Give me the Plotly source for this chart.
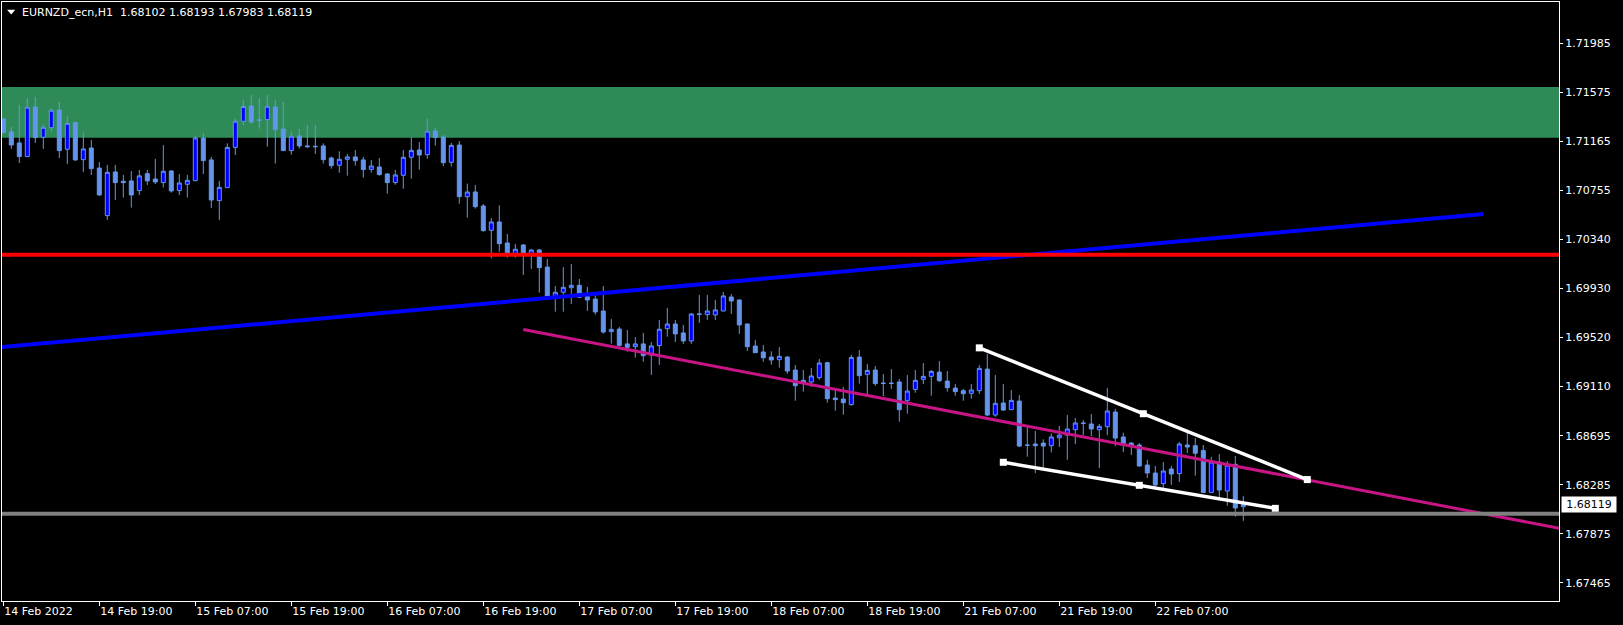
import plotly.graph_objects as go

# ---------------- data (EURNZD_ecn, H1) ----------------
tick_bars = [0, 12, 24, 36, 48, 60, 72, 84, 96, 108, 120, 132, 144]
tick_labels = ["14 Feb 2022", "14 Feb 19:00", "15 Feb 07:00", "15 Feb 19:00",
               "16 Feb 07:00", "16 Feb 19:00", "17 Feb 07:00", "17 Feb 19:00",
               "18 Feb 07:00", "18 Feb 19:00", "21 Feb 07:00", "21 Feb 19:00",
               "22 Feb 07:00"]

price_ticks = [1.71985, 1.71575, 1.71165, 1.70755, 1.70340, 1.69930,
               1.69520, 1.69110, 1.68695, 1.68285, 1.67875, 1.67465]
price_tick_labels = ["1.71985", "1.71575", "1.71165", "1.70755", "1.70340", "1.69930",
                     "1.69520", "1.69110", "1.68695", "1.68285", "1.67875", "1.67465"]

open_ = [1.71351, 1.71242, 1.71150, 1.71036, 1.71452, 1.71198, 1.71278, 1.71426, 1.71097, 1.71320,
         1.71010, 1.71108, 1.70940, 1.70541, 1.70907, 1.70829, 1.70832, 1.70751, 1.70893, 1.70848,
         1.70818, 1.70915, 1.70751, 1.70804, 1.70834, 1.71192, 1.71008, 1.70667, 1.70776, 1.71113,
         1.71332, 1.71460, 1.71343, 1.71346, 1.71452, 1.71267, 1.71086, 1.71209, 1.71125, 1.71122,
         1.71125, 1.71024, 1.70963, 1.71013, 1.71033, 1.71008, 1.70929, 1.70949, 1.70890, 1.70818,
         1.70879, 1.71030, 1.71091, 1.71052, 1.71251, 1.71200, 1.70988, 1.71133, 1.70700, 1.70739,
         1.70622, 1.70418, 1.70488, 1.70312, 1.70225, 1.70295, 1.70219, 1.70253, 1.70110, 1.69868,
         1.69899, 1.69937, 1.69957, 1.69862, 1.69842, 1.69742, 1.69569, 1.69591, 1.69466, 1.69443,
         1.69466, 1.69373, 1.69452, 1.69594, 1.69633, 1.69558, 1.69491, 1.69717, 1.69711, 1.69709,
         1.69742, 1.69859, 1.69834, 1.69633, 1.69448, 1.69398, 1.69356, 1.69334, 1.69356, 1.69247,
         1.69161, 1.69147, 1.69183, 1.69309, 1.69012, 1.69004, 1.68957, 1.69356, 1.69211, 1.69247,
         1.69138, 1.69138, 1.69147, 1.68990, 1.69085, 1.69169, 1.69194, 1.69230, 1.69155, 1.69096,
         1.69074, 1.69052, 1.69074, 1.69255, 1.68870, 1.68971, 1.68915, 1.68987, 1.68619, 1.68627,
         1.68635, 1.68613, 1.68680, 1.68702, 1.68747, 1.68803, 1.68795, 1.68747, 1.68772, 1.68895,
         1.68686, 1.68635, 1.68619, 1.68451, 1.68384, 1.68295, 1.68418, 1.68379, 1.68619, 1.68613,
         1.68573, 1.68222, 1.68476, 1.68233, 1.68457, 1.68102]
high = [1.71356, 1.71284, 1.71468, 1.71527, 1.71536, 1.71306, 1.71441, 1.71493, 1.71373, 1.71326,
        1.71237, 1.71175, 1.70991, 1.70966, 1.70966, 1.70882, 1.70915, 1.70924, 1.70924, 1.71016,
        1.71133, 1.70924, 1.70890, 1.70882, 1.71211, 1.71234, 1.71033, 1.70832, 1.71147, 1.71356,
        1.71510, 1.71552, 1.71527, 1.71552, 1.71510, 1.71493, 1.71245, 1.71267, 1.71301, 1.71301,
        1.71147, 1.71036, 1.71080, 1.71058, 1.71091, 1.71033, 1.71008, 1.71024, 1.70898, 1.70924,
        1.71091, 1.71200, 1.71158, 1.71354, 1.71276, 1.71217, 1.71150, 1.71166, 1.70809, 1.70798,
        1.70638, 1.70521, 1.70627, 1.70387, 1.70303, 1.70303, 1.70261, 1.70261, 1.70178, 1.69951,
        1.70110, 1.70136, 1.70010, 1.69943, 1.69893, 1.69951, 1.69674, 1.69608, 1.69583, 1.69524,
        1.69558, 1.69482, 1.69667, 1.69767, 1.69667, 1.69625, 1.69725, 1.69876, 1.69876, 1.69834,
        1.69901, 1.69885, 1.69840, 1.69638, 1.69498, 1.69457, 1.69404, 1.69440, 1.69364, 1.69289,
        1.69247, 1.69264, 1.69339, 1.69317, 1.69080, 1.69105, 1.69375, 1.69415, 1.69297, 1.69281,
        1.69214, 1.69255, 1.69172, 1.69205, 1.69247, 1.69306, 1.69247, 1.69323, 1.69239, 1.69130,
        1.69088, 1.69130, 1.69289, 1.69381, 1.69205, 1.69130, 1.69080, 1.69038, 1.68772, 1.68736,
        1.68666, 1.68716, 1.68778, 1.68870, 1.68845, 1.68828, 1.68878, 1.68795, 1.69096, 1.68920,
        1.68722, 1.68644, 1.68635, 1.68495, 1.68443, 1.68476, 1.68443, 1.68644, 1.68744, 1.68677,
        1.68619, 1.68518, 1.68543, 1.68484, 1.68527, 1.68193]
low = [1.71231, 1.71100, 1.70982, 1.71033, 1.71150, 1.71100, 1.71245, 1.71024, 1.70974, 1.70999,
       1.70907, 1.70882, 1.70709, 1.70505, 1.70672, 1.70692, 1.70608, 1.70714, 1.70798, 1.70806,
       1.70776, 1.70734, 1.70714, 1.70692, 1.70829, 1.70890, 1.70605, 1.70505, 1.70773, 1.71049,
       1.71300, 1.71312, 1.71270, 1.71119, 1.70977, 1.71083, 1.71052, 1.71103, 1.71108, 1.71058,
       1.70977, 1.70935, 1.70901, 1.70876, 1.70960, 1.70859, 1.70901, 1.70876, 1.70726, 1.70800,
       1.70767, 1.70851, 1.70927, 1.71018, 1.71128, 1.70957, 1.70952, 1.70641, 1.70524, 1.70600,
       1.70407, 1.70183, 1.70239, 1.70189, 1.70189, 1.70044, 1.70094, 1.69896, 1.69862, 1.69736,
       1.69736, 1.69801, 1.69853, 1.69742, 1.69711, 1.69552, 1.69468, 1.69443, 1.69401, 1.69351,
       1.69318, 1.69206, 1.69290, 1.69527, 1.69482, 1.69466, 1.69466, 1.69642, 1.69667, 1.69667,
       1.69739, 1.69717, 1.69550, 1.69406, 1.69390, 1.69317, 1.69292, 1.69267, 1.69216, 1.68990,
       1.69066, 1.69105, 1.69166, 1.68973, 1.68906, 1.68873, 1.68948, 1.69133, 1.69032, 1.69116,
       1.69029, 1.69088, 1.68814, 1.68881, 1.69057, 1.69130, 1.69032, 1.69147, 1.69066, 1.69032,
       1.68990, 1.69007, 1.69046, 1.68862, 1.68856, 1.68904, 1.68912, 1.68602, 1.68521, 1.68384,
       1.68429, 1.68557, 1.68602, 1.68495, 1.68627, 1.68700, 1.68694, 1.68426, 1.68700, 1.68610,
       1.68560, 1.68535, 1.68437, 1.68342, 1.68270, 1.68259, 1.68284, 1.68309, 1.68552, 1.68362,
       1.68216, 1.68220, 1.68175, 1.68110, 1.68018, 1.67983]
close = [1.71237, 1.71133, 1.71036, 1.71449, 1.71195, 1.71281, 1.71424, 1.71086, 1.71314, 1.71008,
         1.71100, 1.70935, 1.70714, 1.70904, 1.70818, 1.70818, 1.70714, 1.70874, 1.70832, 1.70823,
         1.70913, 1.70748, 1.70815, 1.70837, 1.71192, 1.71002, 1.70672, 1.70778, 1.71113, 1.71332,
         1.71455, 1.71326, 1.71340, 1.71457, 1.71262, 1.71086, 1.71206, 1.71125, 1.71119, 1.71119,
         1.71010, 1.70960, 1.71013, 1.71033, 1.71002, 1.70927, 1.70957, 1.70885, 1.70818, 1.70882,
         1.71030, 1.71088, 1.71049, 1.71248, 1.71195, 1.70985, 1.71130, 1.70700, 1.70739, 1.70616,
         1.70415, 1.70488, 1.70306, 1.70225, 1.70259, 1.70217, 1.70253, 1.70105, 1.69868, 1.69899,
         1.69940, 1.69957, 1.69856, 1.69834, 1.69734, 1.69566, 1.69588, 1.69454, 1.69437, 1.69466,
         1.69368, 1.69449, 1.69589, 1.69633, 1.69550, 1.69491, 1.69717, 1.69714, 1.69742, 1.69751,
         1.69868, 1.69826, 1.69625, 1.69443, 1.69392, 1.69350, 1.69331, 1.69362, 1.69239, 1.69116,
         1.69141, 1.69197, 1.69306, 1.69007, 1.68999, 1.68973, 1.69353, 1.69200, 1.69244, 1.69133,
         1.69135, 1.69135, 1.68915, 1.69071, 1.69161, 1.69194, 1.69236, 1.69158, 1.69099, 1.69066,
         1.69049, 1.69080, 1.69261, 1.68870, 1.68968, 1.68912, 1.68993, 1.68610, 1.68616, 1.68613,
         1.68610, 1.68686, 1.68702, 1.68753, 1.68803, 1.68800, 1.68753, 1.68775, 1.68904, 1.68677,
         1.68627, 1.68616, 1.68443, 1.68384, 1.68284, 1.68401, 1.68376, 1.68627, 1.68602, 1.68549,
         1.68221, 1.68476, 1.68242, 1.68451, 1.68091, 1.68119]
bars = list(range(len(close)))

title_text = "EURNZD_ecn,H1\u00a0\u00a01.68102 1.68193 1.67983 1.68119"
bid_price = 1.68119
bid_label = "1.68119"

zone_low, zone_high = 1.71194, 1.71619      # green supply zone
red_level = 1.70214
gray_level = 1.68043

blue_bars, blue_prices = [-2, 185], [1.69429, 1.70554]
magenta_bars, magenta_prices = [65, 196], [1.69587, 1.67902]
wedge_upper_bars, wedge_upper_prices = [122, 163], [1.69433, 1.68329]
wedge_lower_bars, wedge_lower_prices = [125, 159], [1.68474, 1.68088]

# ---------------- layout constants ----------------
W, H = 1623, 625
ML, MR, MT, MB = 2, 64, 2, 24
X_RANGE = [-0.1625, 194.4625]
Y_RANGE = [1.6731162, 1.7233124]
FONT = "DejaVu Sans"
UP_FILL, DOWN_FILL, CANDLE_LINE = "#0000FF", "#6495ED", "#6495ED"


def with_mid(xs, ys):
    return ([xs[0], (xs[0] + xs[1]) / 2, xs[1]], [ys[0], (ys[0] + ys[1]) / 2, ys[1]])


def px_to_paper(px, py):
    return (px - ML) / (W - ML - MR), 1 - (py - MT) / (H - MT - MB)


fig = go.Figure()

fig.add_trace(go.Candlestick(
    x=bars, open=open_, high=high, low=low, close=close,
    increasing=dict(fillcolor=UP_FILL, line=dict(color=CANDLE_LINE, width=1)),
    decreasing=dict(fillcolor=DOWN_FILL, line=dict(color=CANDLE_LINE, width=1)),
    whiskerwidth=0, hoverinfo="skip", showlegend=False,
))

fig.add_trace(go.Scatter(x=blue_bars, y=blue_prices, mode="lines",
                         line=dict(color="#0000FF", width=4), hoverinfo="skip", showlegend=False))
fig.add_trace(go.Scatter(x=magenta_bars, y=magenta_prices, mode="lines",
                         line=dict(color="#C71585", width=3), hoverinfo="skip", showlegend=False))
for xs, ys in [(wedge_upper_bars, wedge_upper_prices), (wedge_lower_bars, wedge_lower_prices)]:
    mx, my = with_mid(xs, ys)
    fig.add_trace(go.Scatter(x=mx, y=my, mode="lines+markers",
                             line=dict(color="#FFFFFF", width=3.5),
                             marker=dict(symbol="square", size=7, color="#FFFFFF"),
                             hoverinfo="skip", showlegend=False))

shapes = [
    dict(type="rect", xref="paper", yref="y", x0=0, x1=1, y0=zone_low, y1=zone_high,
         fillcolor="#2E8B57", line=dict(width=0), layer="below"),
    dict(type="line", xref="paper", yref="y", x0=0, x1=1, y0=red_level, y1=red_level,
         line=dict(color="#FF0000", width=4), layer="above"),
    dict(type="line", xref="paper", yref="y", x0=0, x1=1, y0=gray_level, y1=gray_level,
         line=dict(color="#808080", width=4), layer="above"),
]
# small menu triangle at top-left
a = px_to_paper(7, 9.7)
b = px_to_paper(15.3, 9.7)
c = px_to_paper(11.2, 14.5)
shapes.append(dict(type="path", xref="paper", yref="paper",
                   path=f"M {a[0]} {a[1]} L {b[0]} {b[1]} L {c[0]} {c[1]} Z",
                   fillcolor="#FFFFFF", line=dict(width=0), layer="above"))

tx, ty = px_to_paper(20, 12.5)
annotations = [
    dict(text=title_text, xref="paper", yref="paper", x=tx, y=ty, xanchor="left", yanchor="middle",
         showarrow=False, font=dict(family=FONT, size=11, color="#FFFFFF")),
    dict(text=bid_label, xref="paper", yref="y", x=1, y=bid_price, xanchor="left", yanchor="middle",
         xshift=2, showarrow=False, bgcolor="#FFFFFF", width=52, height=13, borderpad=1,
         font=dict(family=FONT, size=11, color="#000000")),
]

fig.update_layout(
    width=W, height=H,
    margin=dict(l=ML, r=MR, t=MT, b=MB, pad=0),
    paper_bgcolor="#000000", plot_bgcolor="#000000",
    showlegend=False, boxgap=0.5, boxgroupgap=0,
    shapes=shapes, annotations=annotations,
    font=dict(family=FONT, size=11, color="#FFFFFF"),
    xaxis=dict(range=X_RANGE, showgrid=False, zeroline=False, showline=True, linecolor="#FFFFFF",
               linewidth=1, mirror=True, ticks="outside", ticklen=4, tickwidth=1, tickcolor="#FFFFFF",
               tickvals=tick_bars, ticktext=tick_labels, ticklabelposition="outside right",
               tickfont=dict(family=FONT, size=11, color="#FFFFFF"),
               rangeslider=dict(visible=False), fixedrange=True),
    yaxis=dict(range=Y_RANGE, side="right", showgrid=False, zeroline=False, showline=True,
               linecolor="#FFFFFF", linewidth=1, mirror=True, ticks="outside", ticklen=3,
               tickwidth=1, tickcolor="#FFFFFF", tickvals=price_ticks, ticktext=price_tick_labels,
               tickfont=dict(family=FONT, size=11, color="#FFFFFF"), fixedrange=True),
)

fig.write_html("out.html", config={"displayModeBar": False, "staticPlot": True},
               post_script="document.body.style.margin='0';document.body.style.overflow='hidden';")
